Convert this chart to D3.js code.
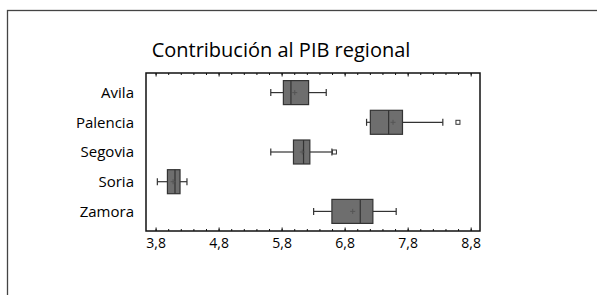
<!DOCTYPE html>
<html><head><meta charset="utf-8">
<script src="https://cdn.jsdelivr.net/npm/d3@7"></script>
<style>
body{margin:0;background:#fff;}
svg text{font-family:"Open Sans",sans-serif;fill:#000;}
</style></head>
<body><svg id="c" width="597" height="295"></svg>
<script>
const categories = ["Avila","Palencia","Segovia","Soria","Zamora"];
const whiskerLow  = [5.62, 7.14, 5.62, 3.82, 6.30];
const q1          = [5.82, 7.20, 5.98, 3.98, 6.59];
const median      = [5.94, 7.49, 6.14, 4.10, 7.04];
const mean        = [6.00, 7.56, 6.12, 4.07, 6.92];
const q3          = [6.22, 7.71, 6.24, 4.18, 7.24];
const whiskerHigh = [6.50, 8.35, 6.59, 4.29, 7.61];
const outliers    = [[], [8.59], [6.63], [], []];
const tickValues  = [3.8, 4.8, 5.8, 6.8, 7.8, 8.8];
const tickLabels  = ["3,8","4,8","5,8","6,8","7,8","8,8"];
const minorTicks  = d3.range(38, 89, 2).map(v => v / 10);
const title = "Contribución al PIB regional";

const svg = d3.select("#c");
svg.append("rect").attr("x",7.5).attr("y",10.5).attr("width",700).attr("height",400)
  .attr("fill","none").attr("stroke","#444").attr("stroke-width",1.3);

const L=146, R=480, T=73, B=231;
const x = d3.scaleLinear().domain([3.64, 8.94]).range([L, R]);
const y = d3.scalePoint().domain(categories).range([T, B]).padding(0.66);

svg.append("text").attr("x",281).attr("y",57).attr("text-anchor","middle")
  .attr("font-size",20).text(title);

svg.append("rect").attr("x",L).attr("y",T).attr("width",R-L).attr("height",B-T)
  .attr("fill","none").attr("stroke","#111").attr("stroke-width",1.5);

const gB = svg.append("g");
gB.selectAll(".mn").data(minorTicks).join("line")
  .attr("x1",d=>x(d)).attr("x2",d=>x(d)).attr("y1",B).attr("y2",B-2)
  .attr("stroke","#111").attr("stroke-width",1);
gB.selectAll(".mj").data(tickValues).join("line")
  .attr("x1",d=>x(d)).attr("x2",d=>x(d)).attr("y1",B).attr("y2",B-3.5)
  .attr("stroke","#111").attr("stroke-width",1);
gB.selectAll(".tmn").data(minorTicks).join("line")
  .attr("x1",d=>x(d)).attr("x2",d=>x(d)).attr("y1",T).attr("y2",T+2)
  .attr("stroke","#111").attr("stroke-width",1);
gB.selectAll(".tmj").data(tickValues).join("line")
  .attr("x1",d=>x(d)).attr("x2",d=>x(d)).attr("y1",T).attr("y2",T+3.5)
  .attr("stroke","#111").attr("stroke-width",1);
gB.selectAll(".tl").data(tickValues).join("text")
  .attr("x",d=>x(d)).attr("y",B+17).attr("text-anchor","middle").attr("font-size",14)
  .text((d,i)=>tickLabels[i]);

svg.selectAll(".cl").data(categories).join("text")
  .attr("x",134).attr("y",d=>y(d)).attr("dy","0.35em").attr("text-anchor","end")
  .attr("font-size",15).text(d=>d);

const bh = 24, cap = 7;
const g = svg.append("g");
categories.forEach((c,i)=>{
  const cy = y(c);
  const s = "#333";
  g.append("line").attr("x1",x(whiskerLow[i])).attr("x2",x(q1[i])).attr("y1",cy).attr("y2",cy).attr("stroke",s).attr("stroke-width",1.2);
  g.append("line").attr("x1",x(q3[i])).attr("x2",x(whiskerHigh[i])).attr("y1",cy).attr("y2",cy).attr("stroke",s).attr("stroke-width",1.2);
  g.append("line").attr("x1",x(whiskerLow[i])).attr("x2",x(whiskerLow[i])).attr("y1",cy-cap/2).attr("y2",cy+cap/2).attr("stroke",s).attr("stroke-width",1.2);
  g.append("line").attr("x1",x(whiskerHigh[i])).attr("x2",x(whiskerHigh[i])).attr("y1",cy-cap/2).attr("y2",cy+cap/2).attr("stroke",s).attr("stroke-width",1.2);
  g.append("rect").attr("x",x(q1[i])).attr("y",cy-bh/2).attr("width",x(q3[i])-x(q1[i])).attr("height",bh)
    .attr("fill","#6e6e6e").attr("stroke",s).attr("stroke-width",1.2);
  g.append("line").attr("x1",x(median[i])).attr("x2",x(median[i])).attr("y1",cy-bh/2).attr("y2",cy+bh/2).attr("stroke",s).attr("stroke-width",1.2);
  const mx = x(mean[i]);
  g.append("line").attr("x1",mx-2.5).attr("x2",mx+2.5).attr("y1",cy).attr("y2",cy).attr("stroke","#555").attr("stroke-width",1);
  g.append("line").attr("x1",mx).attr("x2",mx).attr("y1",cy-2.5).attr("y2",cy+2.5).attr("stroke","#555").attr("stroke-width",1);
  outliers[i].forEach(o=>{
    g.append("rect").attr("x",x(o)-2).attr("y",cy-2).attr("width",4).attr("height",4)
      .attr("fill","#fff").attr("stroke",s).attr("stroke-width",1);
  });
});
</script></body></html>
